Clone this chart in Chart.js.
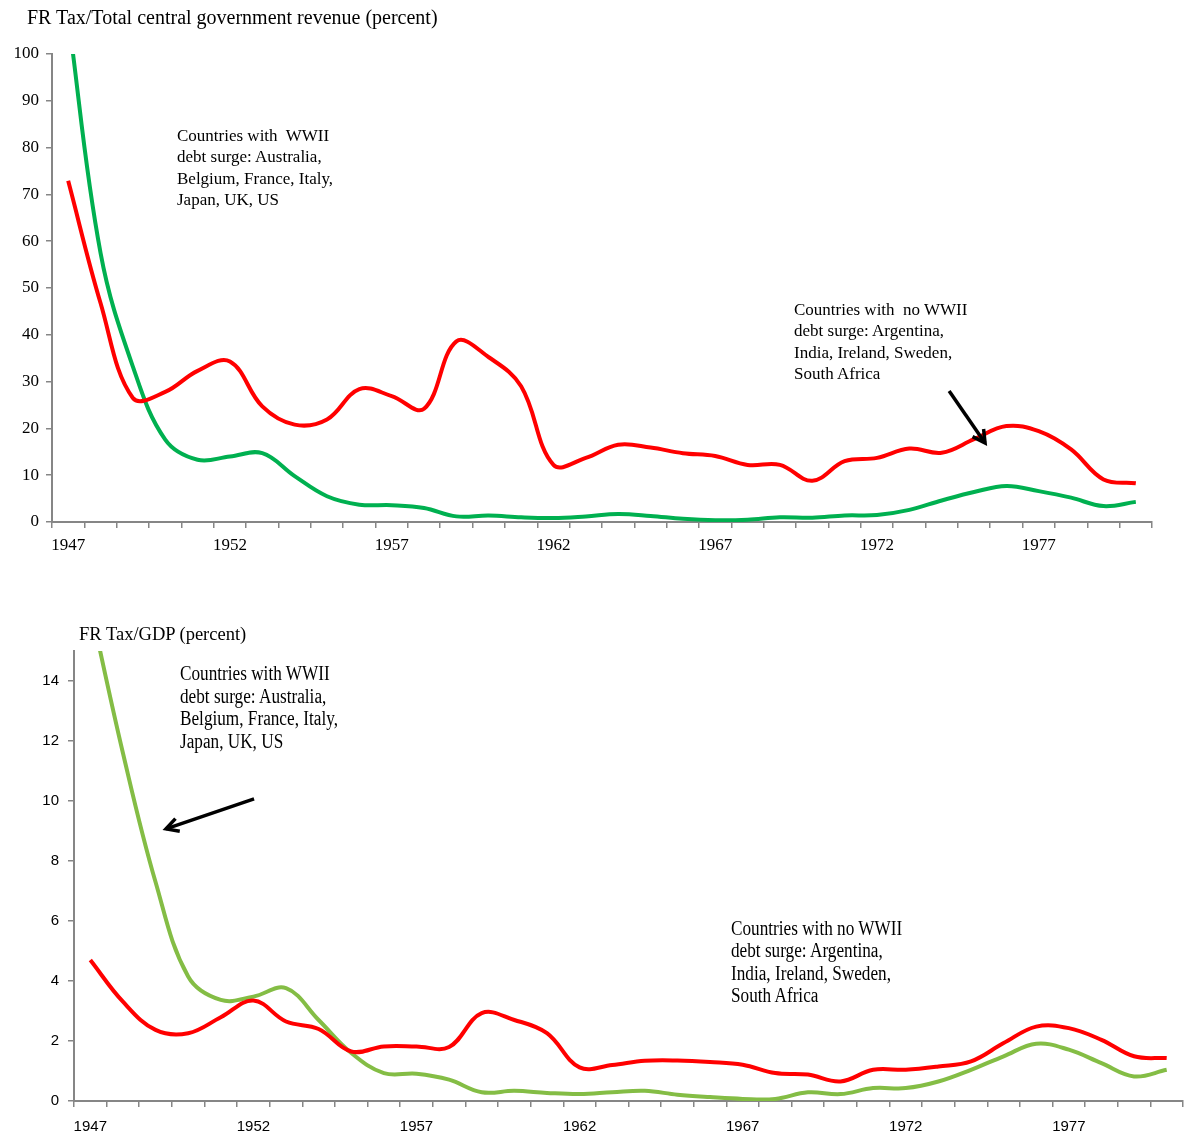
<!DOCTYPE html>
<html>
<head>
<meta charset="utf-8">
<script src="https://cdn.jsdelivr.net/npm/chart.js@4.4.1/dist/chart.umd.min.js"></script>
<style>
  html, body { margin: 0; padding: 0; background: #fff; }
  body { width: 1188px; height: 1138px; position: relative; overflow: hidden; }
  canvas { position: absolute; left: 0; }
  .txt { position: absolute; font-family: "Liberation Serif", "Times New Roman", serif; color: #000; white-space: pre; }
</style>
</head>
<body>
<canvas id="top" width="1188" height="580" style="top:0px;width:1188px;height:580px"></canvas>
<canvas id="bot" width="1188" height="538" style="top:600px;width:1188px;height:538px"></canvas>

<div class="txt" style="left:27px;top:5px;font-size:20px;line-height:24px;">FR Tax/Total central government revenue (percent)</div>
<div class="txt" style="left:177px;top:124.5px;font-size:17px;line-height:21.5px;">Countries with  WWII
debt surge: Australia,
Belgium, France, Italy,
Japan, UK, US</div>
<div class="txt" style="left:794px;top:298.5px;font-size:17px;line-height:21.5px;">Countries with  no WWII
debt surge: Argentina,
India, Ireland, Sweden,
South Africa</div>

<div class="txt" style="left:79px;top:623px;font-size:18.5px;line-height:22px;">FR Tax/GDP (percent)</div>
<div class="txt" style="left:180px;top:662px;font-size:20px;line-height:22.5px;transform:scaleX(0.86);transform-origin:0 0;">Countries with WWII
debt surge: Australia,
Belgium, France, Italy,
Japan, UK, US</div>
<div class="txt" style="left:731px;top:916.5px;font-size:20px;line-height:22.6px;transform:scaleX(0.86);transform-origin:0 0;">Countries with no WWII
debt surge: Argentina,
India, Ireland, Sweden,
South Africa</div>

<script>
// ---- Data ----
const years = ["1947","1948","1949","1950","1951","1952","1953","1954","1955","1956","1957","1958","1959","1960","1961","1962","1963","1964","1965","1966","1967","1968","1969","1970","1971","1972","1973","1974","1975","1976","1977","1978","1979","1980"];

// FR Tax / Total central government revenue (percent)
const revNoSurge = [72.9,46.8,26.5,27.8,32.3,34.3,24.7,20.8,21.9,28.4,26.9,24.2,38.6,35.2,29.0,12.2,13.7,16.5,15.9,14.7,14.1,12.2,12.2,8.8,13.0,13.7,15.7,14.8,17.7,20.5,19.4,15.5,9.1,8.3];
const revSurge   = [108,57.5,33.2,17.6,13.3,14.0,14.7,9.8,5.5,3.7,3.6,3.0,1.2,1.4,1.0,0.85,1.2,1.7,1.3,0.7,0.4,0.5,1.0,0.9,1.4,1.5,2.6,4.6,6.4,7.7,6.6,5.2,3.4,4.3];

// FR Tax / GDP (percent)
const gdpNoSurge = [4.70,3.31,2.37,2.26,2.79,3.35,2.65,2.40,1.65,1.82,1.82,1.80,2.93,2.70,2.26,1.12,1.20,1.34,1.35,1.30,1.21,0.93,0.88,0.65,1.04,1.04,1.15,1.32,1.93,2.48,2.43,2.04,1.49,1.43];
const gdpSurge   = [16.5,11.6,7.3,4.15,3.37,3.48,3.76,2.70,1.60,0.93,0.91,0.71,0.29,0.34,0.27,0.23,0.29,0.34,0.21,0.13,0.07,0.07,0.29,0.23,0.43,0.43,0.65,1.04,1.49,1.91,1.71,1.26,0.82,1.04];

const revTicks = [0,10,20,30,40,50,60,70,80,90,100];
const gdpTicks = [0,2,4,6,8,10,12,14];

// arrow annotations in data units: [category index, value]
const topArrow = { from: [27.23, 28.0], to: [28.34, 16.9] };
const botArrow = { from: [5.02, 10.07], to: [2.32, 9.07] };

const AXIS = '#868686';

function arrowPlugin(arrow) {
  return {
    id: 'arrow',
    afterDatasetsDraw(chart) {
      const xs = chart.scales.x, ys = chart.scales.y, ctx = chart.ctx;
      const x1 = xs.getPixelForValue(arrow.from[0]), y1 = ys.getPixelForValue(arrow.from[1]);
      const x2 = xs.getPixelForValue(arrow.to[0]),   y2 = ys.getPixelForValue(arrow.to[1]);
      const ang = Math.atan2(y2 - y1, x2 - x1);
      const L = 14, a = 0.5;
      ctx.save();
      ctx.strokeStyle = '#000';
      ctx.lineWidth = 3.5;
      ctx.lineCap = 'butt';
      ctx.lineJoin = 'miter';
      ctx.beginPath();
      ctx.moveTo(x1, y1); ctx.lineTo(x2, y2);
      ctx.stroke();
      ctx.beginPath();
      ctx.moveTo(x2 - L * Math.cos(ang - a), y2 - L * Math.sin(ang - a));
      ctx.lineTo(x2, y2);
      ctx.lineTo(x2 - L * Math.cos(ang + a), y2 - L * Math.sin(ang + a));
      ctx.stroke();
      ctx.restore();
    }
  };
}

function makeChart(id, cfg) {
  return new Chart(document.getElementById(id), {
    type: 'line',
    data: {
      labels: years,
      datasets: [
        { data: cfg.red, borderColor: '#FF0000', borderWidth: 4, pointRadius: 0, tension: 0.38, fill: false, clip: 0 },
        { data: cfg.green, borderColor: cfg.greenColor, borderWidth: 4, pointRadius: 0, tension: 0.38, fill: false, clip: 0 }
      ]
    },
    options: {
      responsive: false,
      animation: false,
      devicePixelRatio: 1,
      layout: { padding: cfg.padding },
      plugins: { legend: { display: false }, tooltip: { enabled: false }, title: { display: false } },
      scales: {
        x: {
          type: 'category',
          offset: true,
          grid: { offset: true, drawOnChartArea: false, drawTicks: true, tickLength: 6, color: AXIS, lineWidth: 1.5 },
          border: { color: AXIS, width: 2 },
          ticks: {
            autoSkip: false, maxRotation: 0, minRotation: 0,
            padding: cfg.xPad,
            color: '#000',
            font: cfg.tickFont,
            callback: function (v, i) { return (i % 5 === 0) ? years[i] : ''; }
          },
          afterFit: s => { s.height = cfg.xHeight; }
        },
        y: {
          min: 0, max: cfg.yMax,
          grid: { drawOnChartArea: false, tickLength: 6, color: AXIS, lineWidth: 1.5 },
          border: { color: AXIS, width: 2 },
          afterBuildTicks: s => { s.ticks = cfg.yTicks.map(v => ({ value: v })); },
          ticks: { padding: cfg.yPad, color: '#000', font: cfg.tickFont, callback: v => String(v) },
          afterFit: s => { s.width = cfg.yWidth; }
        }
      }
    },
    plugins: [arrowPlugin(cfg.arrow)]
  });
}

makeChart('top', {
  red: revNoSurge, green: revSurge, greenColor: '#00B050',
  padding: { left: 0, right: 36, top: 54, bottom: 0 },
  xHeight: 58, yWidth: 52, xPad: 7, yPad: 7,
  yMax: 100, yTicks: revTicks,
  tickFont: { family: '"Liberation Serif", "Times New Roman", serif', size: 17 },
  arrow: topArrow
});

makeChart('bot', {
  red: gdpNoSurge, green: gdpSurge, greenColor: '#84BD45',
  padding: { left: 0, right: 5, top: 51, bottom: 0 },
  xHeight: 37, yWidth: 74, xPad: 11, yPad: 9,
  yMax: 15, yTicks: gdpTicks,
  tickFont: { family: '"Liberation Sans", Arial, sans-serif', size: 15 },
  arrow: botArrow
});
</script>
</body>
</html>
